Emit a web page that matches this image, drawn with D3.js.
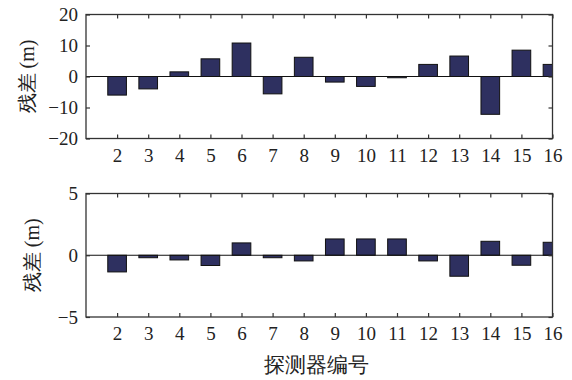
<!DOCTYPE html>
<html>
<head>
<meta charset="utf-8">
<script src="https://cdn.jsdelivr.net/npm/d3@7/dist/d3.min.js"></script>
</head>
<body style="margin:0">
<svg id="chart" width="572" height="380" font-family="Liberation Serif, Times New Roman, serif"></svg>
<script>
// Detector numbers along the x axis
const detectors = [2, 3, 4, 5, 6, 7, 8, 9, 10, 11, 12, 13, 14, 15, 16];
// Residuals (m), upper panel
const residualsTop = [-6.0, -4.0, 1.5, 5.7, 10.8, -5.6, 6.2, -1.8, -3.2, -0.4, 3.9, 6.6, -12.2, 8.5, 3.9];
// Residuals (m), lower panel
const residualsBottom = [-1.35, -0.2, -0.38, -0.83, 1.0, -0.2, -0.46, 1.32, 1.32, 1.32, -0.46, -1.7, 1.13, -0.81, 1.05];
// Y tick labels for each panel
const yTicksTop = [-20, -10, 0, 10, 20];
const yTicksBottom = [-5, 0, 5];
const yLabel = "残差 (m)";
const xTitle = "探测器编号";

const svg = d3.select("#chart");
const serif = '"Liberation Serif"';
const barColor = "#2e3060";
const frameColor = "#333";
const textColor = "#222";
const barWidthUnits = 0.6;

function panel(cfg) {
  const { left, right, top, bottom, values, yDomain, yTicks, id, labelX } = cfg;
  const x = d3.scaleLinear().domain([1, 16]).range([left, right]);
  const y = d3.scaleLinear().domain(yDomain).range([bottom, top]);
  const g = svg.append("g");

  g.append("clipPath").attr("id", id)
    .append("rect").attr("x", left).attr("y", top)
    .attr("width", right - left).attr("height", bottom - top);

  const bw = x(1 + barWidthUnits) - x(1);
  g.append("g").attr("clip-path", `url(#${id})`)
    .selectAll("rect").data(detectors).join("rect")
    .attr("x", (d) => x(d) - bw / 2)
    .attr("width", bw)
    .attr("y", (d, i) => y(Math.max(0, values[i])))
    .attr("height", (d, i) => Math.abs(y(values[i]) - y(0)))
    .attr("fill", barColor)
    .attr("stroke", "#111")
    .attr("stroke-width", 1);

  // zero line
  g.append("line")
    .attr("x1", left).attr("x2", right)
    .attr("y1", y(0)).attr("y2", y(0))
    .attr("stroke", "#111").attr("stroke-width", 1.2);

  // frame
  g.append("rect")
    .attr("x", left).attr("y", top)
    .attr("width", right - left).attr("height", bottom - top)
    .attr("fill", "none").attr("stroke", frameColor).attr("stroke-width", 1.3);

  const tickLen = 4;
  // inward x ticks, bottom and top
  const xBottom = d3.axisBottom(x).tickValues(detectors).tickSize(-tickLen).tickPadding(10).tickFormat(d3.format("d"));
  const xTop = d3.axisTop(x).tickValues(detectors).tickSize(-tickLen).tickFormat("");
  const gxb = g.append("g").attr("transform", `translate(0,${bottom})`).call(xBottom);
  const gxt = g.append("g").attr("transform", `translate(0,${top})`).call(xTop);
  // inward y ticks, left and right
  const yLeft = d3.axisLeft(y).tickValues(yTicks).tickSize(-tickLen).tickPadding(8).tickFormat(d3.format("d"));
  const yRight = d3.axisRight(y).tickValues(yTicks).tickSize(-tickLen).tickFormat("");
  const gyl = g.append("g").attr("transform", `translate(${left},0)`).call(yLeft);
  const gyr = g.append("g").attr("transform", `translate(${right},0)`).call(yRight);

  [gxb, gxt, gyl, gyr].forEach((a) => {
    a.attr("font-family", null).attr("font-size", null);
    a.select(".domain").remove();
    a.selectAll(".tick line").attr("stroke", frameColor).attr("stroke-width", 1.2);
    a.selectAll(".tick text")
      .style("font-family", serif)
      .attr("font-size", 19)
      .attr("fill", textColor);
  });

  g.append("text")
    .attr("transform", `translate(${labelX},${(top + bottom) / 2}) rotate(-90)`)
    .attr("text-anchor", "middle")
    .attr("dy", "0.35em")
    .style("font-family", serif)
    .attr("font-size", 20)
    .attr("fill", textColor)
    .text(yLabel);
}

panel({ left: 86, right: 552.5, top: 14.5, bottom: 138.5, values: residualsTop,
  yDomain: [-20, 20], yTicks: yTicksTop, id: "clipTop", labelX: 27 });
panel({ left: 86, right: 552.5, top: 193.5, bottom: 317, values: residualsBottom,
  yDomain: [-5, 5], yTicks: yTicksBottom, id: "clipBottom", labelX: 32 });

svg.append("text")
  .attr("x", 316).attr("y", 365)
  .attr("text-anchor", "middle")
  .attr("dy", "0.35em")
  .style("font-family", serif)
  .attr("font-size", 21)
  .attr("fill", textColor)
  .text(xTitle);
</script>
</body>
</html>
